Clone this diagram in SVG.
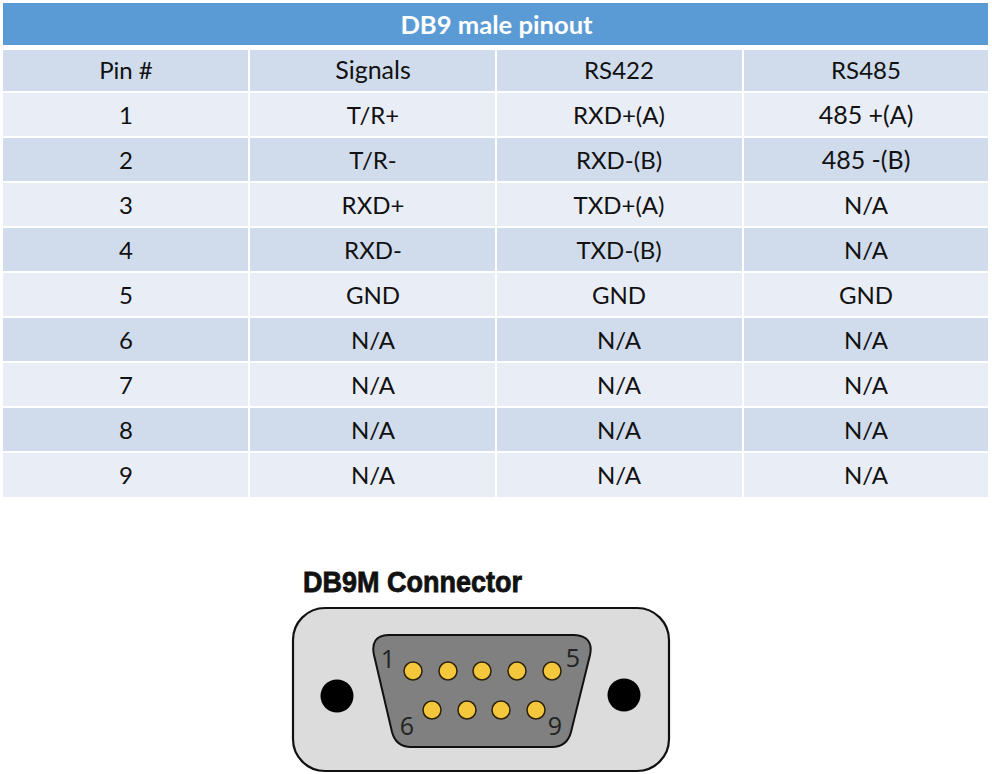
<svg xmlns="http://www.w3.org/2000/svg" width="992" height="774" viewBox="0 0 992 774">
<style>
.t{font-family:"Lato","Open Sans","Liberation Sans",sans-serif;font-size:24px;fill:#111;text-anchor:middle}
.h{fill:#d0dcec}.o{fill:#e9edf6}
.n{font-family:"Open Sans","Liberation Sans",sans-serif;font-size:25px;fill:#222;text-anchor:middle}
.p{fill:#f5c73d;stroke:#2b2206;stroke-width:1.5}
</style>
<rect width="992" height="774" fill="#fff"/>
<g id="table">
<rect x="3" y="3" width="985" height="42" fill="#5b9bd5"/>
<text x="496.500" y="34" class="t" style="fill:#fff;font-weight:700;font-size:25.600px">DB9 male pinout</text>
<g id="cells">
<rect class="h" x="3" y="50" width="245" height="41"/><rect class="h" x="250" y="50" width="245" height="41"/><rect class="h" x="497" y="50" width="245" height="41"/><rect class="h" x="744" y="50" width="244" height="41"/>
<rect class="o" x="3" y="93" width="245" height="43"/><rect class="o" x="250" y="93" width="245" height="43"/><rect class="o" x="497" y="93" width="245" height="43"/><rect class="o" x="744" y="93" width="244" height="43"/>
<rect class="h" x="3" y="138" width="245" height="43"/><rect class="h" x="250" y="138" width="245" height="43"/><rect class="h" x="497" y="138" width="245" height="43"/><rect class="h" x="744" y="138" width="244" height="43"/>
<rect class="o" x="3" y="183" width="245" height="43"/><rect class="o" x="250" y="183" width="245" height="43"/><rect class="o" x="497" y="183" width="245" height="43"/><rect class="o" x="744" y="183" width="244" height="43"/>
<rect class="h" x="3" y="228" width="245" height="43"/><rect class="h" x="250" y="228" width="245" height="43"/><rect class="h" x="497" y="228" width="245" height="43"/><rect class="h" x="744" y="228" width="244" height="43"/>
<rect class="o" x="3" y="273" width="245" height="43"/><rect class="o" x="250" y="273" width="245" height="43"/><rect class="o" x="497" y="273" width="245" height="43"/><rect class="o" x="744" y="273" width="244" height="43"/>
<rect class="h" x="3" y="318" width="245" height="43"/><rect class="h" x="250" y="318" width="245" height="43"/><rect class="h" x="497" y="318" width="245" height="43"/><rect class="h" x="744" y="318" width="244" height="43"/>
<rect class="o" x="3" y="363" width="245" height="43"/><rect class="o" x="250" y="363" width="245" height="43"/><rect class="o" x="497" y="363" width="245" height="43"/><rect class="o" x="744" y="363" width="244" height="43"/>
<rect class="h" x="3" y="408" width="245" height="43"/><rect class="h" x="250" y="408" width="245" height="43"/><rect class="h" x="497" y="408" width="245" height="43"/><rect class="h" x="744" y="408" width="244" height="43"/>
<rect class="o" x="3" y="453" width="245" height="44"/><rect class="o" x="250" y="453" width="245" height="44"/><rect class="o" x="497" y="453" width="245" height="44"/><rect class="o" x="744" y="453" width="244" height="44"/>
</g>
<g id="labels">
<text class="t" x="126" y="79">Pin #</text><text class="t" x="373" y="79" style="font-size:25px">Signals</text><text class="t" x="619" y="79">RS422</text><text class="t" x="866" y="79">RS485</text>
<text class="t" x="126" y="124">1</text><text class="t" x="373" y="124">T/R+</text><text class="t" x="619" y="124">RXD+(A)</text><text class="t" x="866" y="124" style="font-size:25px">485 +(A)</text>
<text class="t" x="126" y="169">2</text><text class="t" x="373" y="169">T/R-</text><text class="t" x="619" y="169">RXD-(B)</text><text class="t" x="866" y="169" style="font-size:25px">485 -(B)</text>
<text class="t" x="126" y="214">3</text><text class="t" x="373" y="214">RXD+</text><text class="t" x="619" y="214">TXD+(A)</text><text class="t" x="866" y="214">N/A</text>
<text class="t" x="126" y="259">4</text><text class="t" x="373" y="259">RXD-</text><text class="t" x="619" y="259">TXD-(B)</text><text class="t" x="866" y="259">N/A</text>
<text class="t" x="126" y="304">5</text><text class="t" x="373" y="304">GND</text><text class="t" x="619" y="304">GND</text><text class="t" x="866" y="304">GND</text>
<text class="t" x="126" y="349">6</text><text class="t" x="373" y="349">N/A</text><text class="t" x="619" y="349">N/A</text><text class="t" x="866" y="349">N/A</text>
<text class="t" x="126" y="394">7</text><text class="t" x="373" y="394">N/A</text><text class="t" x="619" y="394">N/A</text><text class="t" x="866" y="394">N/A</text>
<text class="t" x="126" y="439">8</text><text class="t" x="373" y="439">N/A</text><text class="t" x="619" y="439">N/A</text><text class="t" x="866" y="439">N/A</text>
<text class="t" x="126" y="484">9</text><text class="t" x="373" y="484">N/A</text><text class="t" x="619" y="484">N/A</text><text class="t" x="866" y="484">N/A</text>
</g>
</g>
<g id="connector">
<text x="303" y="592" font-family="'Liberation Sans',sans-serif" font-weight="700" font-size="29" textLength="219" lengthAdjust="spacingAndGlyphs" fill="#111" stroke="#111" stroke-width="0.8">DB9M Connector</text>
<rect x="293" y="608" width="376" height="163" rx="32" fill="#dcdcdc" stroke="#111" stroke-width="2.200"/>
<path d="M388 635H574Q594 636 590 655L571 732Q567 747 552 747H411Q396 747 392 732L374 655Q370 636 388 635Z" fill="#808080" stroke="#111" stroke-width="2"/>
<circle cx="337" cy="696" r="16.500" fill="#000"/><circle cx="624" cy="695" r="16.500" fill="#000"/>
<circle class="p" cx="413" cy="671" r="9"/><circle class="p" cx="448" cy="671" r="9"/><circle class="p" cx="482" cy="671" r="9"/><circle class="p" cx="517" cy="671" r="9"/><circle class="p" cx="552" cy="671" r="9"/>
<circle class="p" cx="432" cy="710" r="9"/><circle class="p" cx="467" cy="710" r="9"/><circle class="p" cx="501" cy="710" r="9"/><circle class="p" cx="536" cy="710" r="9"/>
<text class="n" x="388" y="668">1</text><text class="n" x="573" y="667">5</text><text class="n" x="407" y="735">6</text><text class="n" x="555" y="735">9</text>
</g>
</svg>
